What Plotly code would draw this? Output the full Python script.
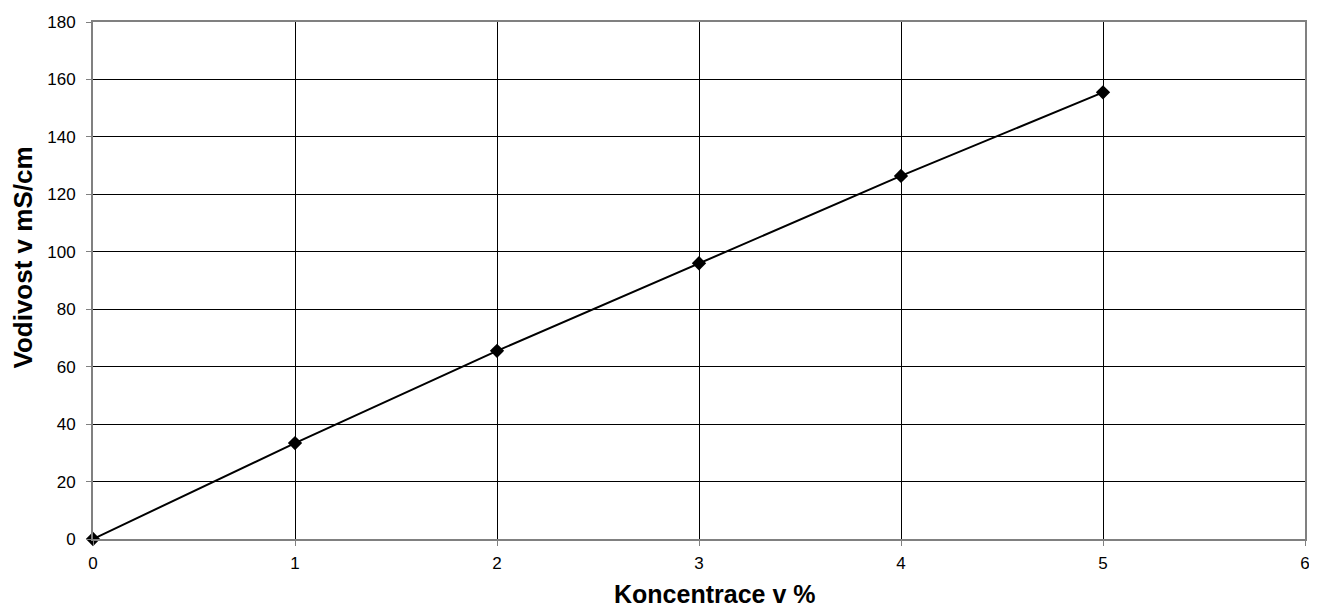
import plotly.graph_objects as go

koncentrace = [0, 1, 2, 3, 4, 5]
vodivost = [0, 33.4, 65.5, 96.0, 126.4, 155.5]
x_ticks = [0, 1, 2, 3, 4, 5, 6]
y_ticks = [0, 20, 40, 60, 80, 100, 120, 140, 160, 180]
x_title = "Koncentrace v %"
y_title = "Vodivost v mS/cm"

fig = go.Figure()
fig.add_trace(go.Scatter(
    x=koncentrace, y=vodivost, mode="lines+markers",
    line=dict(color="black", width=2),
    marker=dict(symbol="diamond", size=11, color="black"),
    showlegend=False, cliponaxis=False,
))

font = "Liberation Sans, Arial, sans-serif"
fig.update_layout(
    width=1309, height=602,
    margin=dict(l=85, r=12, t=14, b=71),
    paper_bgcolor="white", plot_bgcolor="white",
    font=dict(family=font, size=17, color="black"),
    annotations=[
        dict(text="<b>" + x_title + "</b>", xref="paper", yref="paper", x=0.5, y=0,
             xanchor="center", yanchor="middle", xshift=15, yshift=-55,
             showarrow=False, font=dict(size=25, family=font, color="black")),
        dict(text="<b>" + y_title + "</b>", xref="paper", yref="paper", x=0, y=0.5,
             xanchor="center", yanchor="middle", xshift=-71, yshift=23, textangle=-90,
             showarrow=False, font=dict(size=26, family=font, color="black")),
    ],
)
fig.update_xaxes(
    range=[0, 6], tickvals=x_ticks, showgrid=True, gridcolor="black", gridwidth=1,
    showline=True, linecolor="#808080", linewidth=2, mirror=True,
    ticks="outside", ticklen=5, tickcolor="#808080", zeroline=False,
    ticklabelstandoff=3, automargin=False,
)
fig.update_yaxes(
    range=[0, 180], tickvals=y_ticks, showgrid=True, gridcolor="black", gridwidth=1,
    showline=True, linecolor="#808080", linewidth=2, mirror=True,
    ticks="outside", ticklen=5, tickcolor="#808080", zeroline=False,
    ticklabelstandoff=7, automargin=False,
)
fig.write_html("out.html")
